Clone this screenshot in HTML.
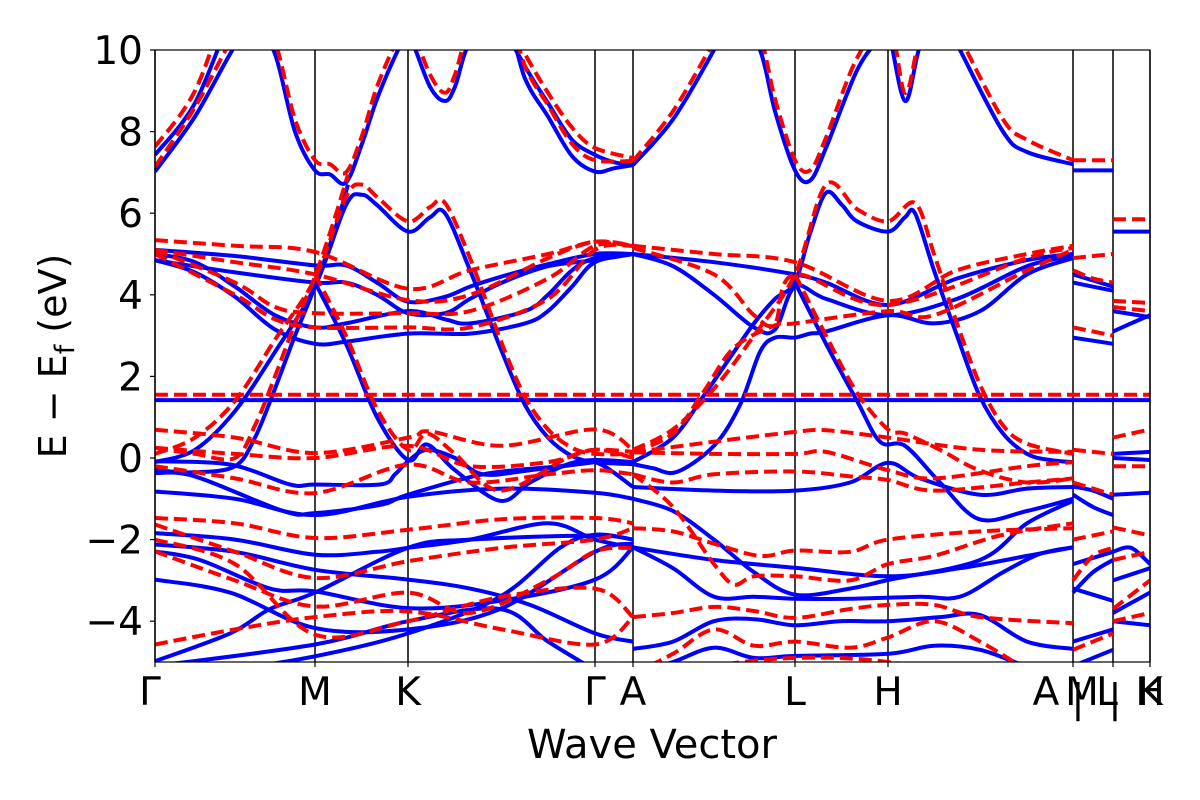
<!DOCTYPE html>
<html><head><meta charset="utf-8"><style>
html,body{margin:0;padding:0;background:#fff;}
svg{display:block;font-family:"DejaVu Sans","Liberation Sans",sans-serif;}
</style></head><body>
<svg id="chart" width="1200" height="800" viewBox="0 0 1200 800" xmlns="http://www.w3.org/2000/svg">
<defs><clipPath id="plotclip"><rect x="155" y="50" width="995" height="612"/></clipPath></defs>
<rect x="155" y="50" width="995" height="612" fill="#fff"/>
<g id="symlines"></g>
<g id="blue" clip-path="url(#plotclip)"></g>
<g id="red" clip-path="url(#plotclip)"></g>
<rect x="155" y="50" width="995" height="612" fill="none" stroke="#000" stroke-width="1.2"/>
<g id="yticks"></g>
<g id="xticks"></g>
<text transform="translate(66,356) rotate(-90)" text-anchor="middle" font-size="38">E − E<tspan font-size="27" dy="8">f</tspan><tspan dy="-8"> (eV)</tspan></text>
<text x="652" y="758" text-anchor="middle" font-size="40">Wave Vector</text>
</svg>
<script>
const yTicks = [10, 8, 6, 4, 2, 0, -2, -4];
const symK = [0, 0.8, 1.265, 2.2, 2.39, 3.2, 3.665, 4.59, 4.79, 4.975];
const symLabels = ["Γ","M","K","Γ","A","L","H","A","L","K"];
const extraLabels = ["M", "|", "|", "H"];
const flatBlue = [0,1.42, 4.975,1.42];
const flatRed = [0,1.55, 4.975,1.55];
const blueBands = [
 [0,7.43, .2,8.7, .4,11, .6,12.5],
 [1.575,12, 1.85,9.6, 1.965,8.7, 2.085,7.8, 2.2,7.43, 2.295,7.25, 2.39,7.18],
 [0,7.02, .2,8.37, .4,10.1, .5,10.6, .6,9.9, .7,8.0, .8,7.05, .875,6.95, .955,6.75, 1.035,7.7, 1.11,8.8, 1.215,10, 1.265,10.4, 1.375,9.1, 1.45,8.75, 1.5,9.1, 1.575,10.2, 1.735,11, 1.85,9.3, 1.965,8.37, 2.085,7.4, 2.2,7.02, 2.295,7.1, 2.39,7.18],
 [2.39,7.18, 2.59,8.3, 2.795,10, 2.9,11, 3.025,10, 3.1,8.5, 3.2,7.05, 3.275,6.8, 3.355,7.6, 3.51,9.5, 3.625,10.3, 3.665,10.5, 3.75,8.75, 3.825,10.1, 3.925,11, 4.025,10, 4.24,8.0, 4.36,7.5, 4.59,7.2],
 [0,5.10, .4,4.95, .8,4.72, .955,4.72, 1.11,4.3, 1.265,3.83, 1.45,3.95, 1.575,4.2, 1.735,4.45, 1.965,4.75, 2.2,5.0, 2.39,5.0],
 [0,4.85, .4,4.55, .8,4.30, .955,4.3, 1.11,4.0, 1.265,3.55, 1.45,3.55, 1.575,3.9, 1.735,4.3, 1.965,4.7, 2.2,4.85, 2.39,5.0],
 [0,4.85, .2,4.55, .4,3.95, .6,3.15, .8,2.8, .955,2.85, 1.265,3.05, 1.575,3.05, 1.85,3.3, 1.965,3.6, 2.085,4.2, 2.2,4.8, 2.39,5.0],
 [0,5.0, .2,4.8, .4,4.2, .6,3.5, .8,3.2, .955,3.3, 1.265,3.6, 1.45,3.4, 1.575,3.3, 1.85,3.6, 1.965,4.0, 2.085,4.6, 2.2,4.9, 2.39,5.0],
 [2.39,5.0, 2.795,4.8, 3.2,4.5, 3.355,4.3, 3.665,3.75, 4.01,4.4, 4.36,4.85, 4.59,5.0],
 [2.39,5.0, 2.59,4.7, 2.795,4.0, 2.995,3.2, 3.1,3.15, 3.2,4.2, 3.355,3.9, 3.665,3.5, 4.01,3.9, 4.36,4.7, 4.59,4.95],
 [2.39,-0.15, 2.49,-0.25, 2.61,-0.34, 2.795,0.3, 2.925,1.3, 3.025,2.6, 3.1,2.95, 3.2,2.95, 3.275,3.05, 3.355,3.1, 3.665,3.5, 3.895,3.3, 4.125,3.6, 4.36,4.5, 4.59,4.9],
 [0,-0.1, .2,0.2, .4,1.15, .6,2.6, .8,4.2, .955,6.2, 1.035,6.45, 1.11,6.2, 1.265,5.55, 1.375,5.9, 1.45,6.0, 1.575,4.6, 1.735,2.6, 1.85,1.3, 1.965,0.5, 2.085,0.05, 2.2,-0.1, 2.39,-0.15],
 [0,-0.3, .2,-0.35, .4,-0.2, .5,0.5, .6,1.7, .7,3.0, .8,4.2, .9,5.6, .965,6.7],
 [.8,4.3, .955,2.8, 1.11,1.0, 1.265,-0.05, 1.36,0.33, 1.5,-0.3, 1.725,-1.05, 1.875,-0.6, 2.06,-0.16, 2.2,-0.05, 2.39,-0.1],
 [0,-0.08, .375,-0.16, .675,-0.65, .8,-0.65, 1.125,-0.65, 1.2,-0.4, 1.265,-0.08, 1.36,0.2, 1.5,0.0, 1.64,-0.4, 1.875,-0.3, 2.2,-0.1],
 [0,-0.37, .2,-0.45, .64,-1.3, .8,-1.35, 1.125,-1.15, 1.265,-0.9, 1.64,-0.4, 2.025,-0.2, 2.2,-0.1, 2.39,-0.71],
 [0,-0.82, .4,-1.0, .8,-1.4, 1.265,-0.95, 1.735,-0.75, 2.2,-0.85, 2.39,-1.0],
 [0,-1.84, .4,-2.0, .8,-2.37, 1.11,-2.3, 1.265,-2.2, 1.575,-2.0, 1.965,-1.6, 2.2,-2.0, 2.39,-2.19],
 [0,-2.12, .4,-2.3, .8,-2.74, 1.265,-2.98, 1.575,-3.2, 1.875,-3.6, 2.2,-4.3, 2.39,-4.5],
 [0,-2.29, .225,-2.5, .575,-3.2, .8,-3.27, 1.265,-3.68, 1.725,-3.5, 2.2,-2.98, 2.39,-2.19],
 [0,-2.98, .375,-3.3, .8,-4.17, 1.265,-4.2, 1.725,-3.7, 2.2,-2.3, 2.39,-2.1],
 [0,-4.98, .375,-4.3, .575,-3.7, .8,-3.3, 1.265,-2.2, 1.575,-2.0, 2.2,-1.9, 2.39,-2.0],
 [0,-5.1, .8,-4.57, 1.265,-4.0, 1.725,-3.7, 1.965,-4.5, 2.2,-5.2],
 [.375,-5.2, .8,-4.86, 1.265,-4.3, 1.725,-3.4, 2.025,-2.2, 2.2,-1.88, 2.39,-2.0],
 [2.39,-0.1, 2.59,0.5, 2.74,1.5, 2.895,2.6, 2.995,3.3, 3.1,3.9, 3.2,4.3, 3.275,5.5, 3.355,6.5, 3.435,6.2, 3.51,5.8, 3.665,5.55, 3.75,5.9, 3.8,6.0, 3.895,4.6, 4.01,3.0, 4.125,1.5, 4.24,0.6, 4.36,0.1, 4.475,-0.05, 4.59,-0.1],
 [3.2,4.3, 3.355,2.8, 3.51,1.4, 3.625,0.4, 3.75,0.3, 3.925,-0.6, 4.12,-1.5, 4.36,-1.3, 4.59,-1.0],
 [2.39,-0.71, 2.795,-0.8, 3.2,-0.8, 3.475,-0.6, 3.665,-0.12, 3.825,-0.5, 4.125,-0.9, 4.36,-0.75, 4.59,-0.71],
 [2.39,-1.0, 2.59,-1.3, 2.795,-2.0, 2.995,-2.8, 3.2,-3.35, 3.475,-3.2, 3.665,-2.99, 4.125,-2.5, 4.36,-1.6, 4.59,-1.05],
 [2.39,-2.19, 2.59,-2.7, 2.795,-3.4, 2.995,-3.4, 3.2,-3.45, 3.475,-3.45, 3.825,-3.4, 4.025,-3.4, 4.24,-2.8, 4.425,-2.35, 4.59,-2.19],
 [2.39,-2.19, 2.795,-2.5, 3.2,-2.69, 3.665,-2.9, 4.025,-2.7, 4.36,-2.4, 4.59,-2.19],
 [2.39,-4.68, 2.59,-4.5, 2.795,-4.0, 2.995,-3.95, 3.2,-4.1, 3.425,-4.0, 3.665,-4.0, 3.925,-3.9, 4.125,-3.85, 4.36,-4.5, 4.59,-4.68],
 [2.39,-5.3, 2.59,-5.0, 2.795,-4.65, 2.995,-4.9, 3.2,-4.85, 3.665,-4.8, 3.895,-4.6, 4.125,-4.7, 4.36,-5.1, 4.59,-5.3],
 [4.59,7.05, 4.79,7.05], [4.59,4.5, 4.69,4.35, 4.79,4.2], [4.59,4.3, 4.79,4.1], [4.59,2.95, 4.79,2.8],
 [4.59,-0.7, 4.69,-0.8, 4.79,-1.0], [4.59,-0.9, 4.69,-1.2, 4.79,-1.4], [4.59,-2.6, 4.79,-2.3],
 [4.59,-3.3, 4.69,-2.8, 4.79,-2.5], [4.59,-3.2, 4.79,-3.5], [4.59,-4.5, 4.79,-4.2], [4.59,-5.1, 4.79,-4.7],
 [4.79,5.55, 4.975,5.55], [4.79,3.6, 4.975,3.45], [4.79,3.1, 4.88,3.3, 4.975,3.5], [4.79,0.1, 4.975,0.15],
 [4.79,0.0, 4.975,-0.05], [4.79,-0.9, 4.975,-0.85], [4.79,-2.3, 4.88,-2.2, 4.975,-2.6], [4.79,-3.0, 4.975,-2.7],
 [4.79,-3.8, 4.975,-3.3], [4.79,-4.0, 4.975,-4.1]
];
const redBands = [
 [0,7.63, .2,9.0, .4,11.5, .6,12.5],
 [1.575,12.3, 1.85,9.9, 1.965,8.95, 2.085,8.1, 2.2,7.6, 2.39,7.35],
 [0,7.14, .2,8.6, .4,10.4, .5,10.9, .6,10.2, .7,8.3, .8,7.3, .875,7.2, .955,7.0, 1.035,7.9, 1.11,9.1, 1.215,10.3, 1.265,10.7, 1.375,9.4, 1.45,8.95, 1.5,9.4, 1.575,10.5, 1.735,11.3, 1.85,9.6, 1.965,8.65, 2.085,7.7, 2.2,7.3, 2.39,7.28],
 [2.39,7.28, 2.59,8.5, 2.795,10.2, 2.9,11, 3.025,10.3, 3.1,8.8, 3.2,7.3, 3.275,7.05, 3.355,7.85, 3.51,9.8, 3.665,10.7, 3.75,8.95, 3.825,10.3, 3.925,11.2, 4.025,10.3, 4.24,8.3, 4.36,7.8, 4.59,7.3],
 [0,0.1, .2,0.5, .4,1.4, .6,2.9, .8,4.4, .955,6.4, 1.035,6.7, 1.11,6.4, 1.265,5.8, 1.375,6.15, 1.45,6.25, 1.575,4.9, 1.735,2.8, 1.85,1.5, 1.965,0.7, 2.085,0.25, 2.2,0.1, 2.39,0.1],
 [0,0.25, .2,0.1, .4,0.0, .5,0.8, .6,2.0, .7,3.3, .8,4.45, .9,5.9, .965,6.95],
 [.8,4.5, .955,3.0, 1.11,1.2, 1.265,0.2, 1.36,0.6, 1.5,0.1, 1.725,-0.8, 2.06,0.0, 2.2,0.2, 2.39,0.15],
 [0,5.34, .4,5.2, .8,5.05, 1.265,4.15, 1.575,4.6, 1.965,5.0, 2.2,5.3, 2.39,5.2],
 [0,5.1, .4,4.8, .8,4.5, 1.265,3.87, 1.575,4.0, 1.965,4.9, 2.2,5.3, 2.39,5.2],
 [0,5.0, .4,4.0, .6,3.4, .8,3.2, 1.265,3.2, 1.575,3.2, 1.965,3.9, 2.2,5.1, 2.39,5.2],
 [0,5.1, .4,4.3, .6,3.7, .8,3.55, 1.265,3.55, 1.575,3.6, 1.965,4.4, 2.2,5.2, 2.39,5.2],
 [2.39,5.2, 2.795,5.0, 3.2,4.8, 3.665,3.85, 4.01,4.6, 4.36,5.0, 4.59,5.2],
 [2.39,5.15, 2.795,4.5, 2.995,3.5, 3.1,3.3, 3.2,4.5, 3.665,3.75, 4.36,4.9, 4.59,5.15],
 [2.39,0.14, 2.59,0.6, 2.74,1.6, 2.895,2.7, 3.1,3.25, 3.2,3.3, 3.665,3.6, 3.895,3.5, 4.36,4.6, 4.59,5.1],
 [2.39,0.2, 2.59,0.7, 2.795,1.7, 2.995,3.0, 3.2,4.5, 3.355,6.7, 3.51,6.1, 3.665,5.8, 3.8,6.25, 3.895,5.0, 4.01,3.3, 4.125,1.8, 4.24,0.8, 4.36,0.35, 4.59,0.1],
 [3.2,4.5, 3.355,3.0, 3.51,1.6, 3.665,0.7, 3.75,0.6, 3.925,0.2, 4.12,-0.3, 4.36,-0.6, 4.59,-0.5],
 [0,0.69, .4,0.5, .8,0.12, 1.265,0.5, 1.375,0.65, 1.735,0.3, 2.2,0.7, 2.39,0.2],
 [0,0.25, .4,0.1, .8,0.0, 1.265,0.3, 1.575,-0.2, 1.965,-0.1, 2.2,0.2, 2.39,0.0],
 [0,-0.2, .4,-0.5, .8,-0.86, 1.265,-0.16, 1.575,-0.6, 1.965,-0.4, 2.2,-0.3, 2.39,-0.4],
 [0,-1.47, .4,-1.6, .8,-1.96, 1.265,-1.76, 1.735,-1.5, 2.2,-1.47, 2.39,-1.6],
 [0,-1.63, .4,-2.3, .8,-2.94, 1.265,-2.53, 1.735,-2.2, 2.2,-2.0, 2.39,-1.72],
 [0,-2.29, .4,-3.0, .8,-3.64, 1.265,-3.3, 1.575,-3.8, 1.965,-3.0, 2.2,-2.29, 2.39,-2.2],
 [0,-4.57, .4,-4.2, .8,-3.9, 1.265,-3.76, 1.735,-4.2, 2.2,-4.57, 2.39,-3.9],
 [0,-2.0, .4,-2.6, .8,-4.33, 1.265,-4.0, 1.735,-3.4, 2.2,-3.2, 2.39,-3.9],
 [2.39,0.14, 2.795,0.1, 3.2,0.1, 3.355,0.15, 3.665,-0.3, 3.895,-0.5, 4.36,-0.2, 4.59,-0.1],
 [2.39,0.14, 2.795,0.4, 3.2,0.64, 3.355,0.68, 3.665,0.5, 4.125,0.2, 4.59,0.15],
 [2.39,-0.4, 2.59,-0.6, 2.795,-0.4, 3.2,-0.33, 3.475,-0.45, 3.665,-0.54, 3.895,-0.8, 4.36,-0.6, 4.59,-0.5],
 [2.39,-1.72, 2.59,-1.8, 2.795,-2.1, 3.025,-2.4, 3.2,-2.27, 3.475,-2.3, 3.665,-2.0, 4.125,-1.8, 4.59,-1.72],
 [2.39,-0.4, 2.59,-1.2, 2.795,-2.6, 2.895,-3.1, 2.995,-2.9, 3.2,-2.9, 3.475,-3.0, 3.665,-2.6, 3.895,-2.4, 4.225,-1.9, 4.59,-1.6],
 [2.39,-3.9, 2.59,-3.8, 2.795,-3.65, 2.995,-3.75, 3.2,-3.92, 3.475,-3.7, 3.665,-3.6, 3.895,-3.6, 4.125,-3.9, 4.59,-4.05],
 [2.39,-5.3, 2.59,-4.8, 2.795,-4.2, 2.995,-4.6, 3.2,-4.5, 3.475,-4.65, 3.665,-4.4, 3.895,-4.0, 4.125,-4.5, 4.36,-5.2],
 [2.39,-5.5, 2.795,-5.1, 3.2,-4.9, 3.665,-5.0, 4.36,-5.6],
 [4.59,7.3, 4.79,7.3], [4.59,4.9, 4.79,5.0], [4.59,4.6, 4.69,4.4, 4.79,4.3], [4.59,3.2, 4.79,3.0],
 [4.59,0.2, 4.79,0.1], [4.59,-0.6, 4.79,-0.9], [4.59,-2.0, 4.79,-1.8], [4.59,-3.0, 4.69,-2.4, 4.79,-2.2], [4.59,-4.7, 4.79,-4.3],
 [4.79,5.85, 4.975,5.85], [4.79,3.85, 4.975,3.8], [4.79,3.7, 4.975,3.6], [4.79,0.5, 4.975,0.7],
 [4.79,-0.2, 4.975,-0.2], [4.79,-1.7, 4.975,-1.9], [4.79,-2.5, 4.975,-2.3], [4.79,-3.7, 4.975,-3.0], [4.79,-4.0, 4.975,-3.8]
];

const NS = "http://www.w3.org/2000/svg";
const kMin = 0, kMax = 4.975, eMin = -5, eMax = 10;
const PX0 = 155, PX1 = 1150, PY0 = 50, PY1 = 662;
function xs(k){ return PX0 + (k - kMin) / (kMax - kMin) * (PX1 - PX0); }
function ys(e){ return PY1 - (e - eMin) / (eMax - eMin) * (PY1 - PY0); }

function bandPath(arr){
  const p = [];
  for (let i = 0; i < arr.length; i += 2) p.push([xs(arr[i]), ys(arr[i+1])]);
  let d = "M" + p[0][0].toFixed(1) + "," + p[0][1].toFixed(1);
  for (let i = 0; i < p.length - 1; i++){
    const p0 = p[Math.max(0, i-1)], p1 = p[i], p2 = p[i+1], p3 = p[Math.min(p.length-1, i+2)];
    const c1x = p1[0] + (p2[0]-p0[0])/6, c1y = p1[1] + (p2[1]-p0[1])/6;
    const c2x = p2[0] - (p3[0]-p1[0])/6, c2y = p2[1] - (p3[1]-p1[1])/6;
    d += " C" + c1x.toFixed(1) + "," + c1y.toFixed(1) + " " + c2x.toFixed(1) + "," + c2y.toFixed(1) + " " + p2[0].toFixed(1) + "," + p2[1].toFixed(1);
  }
  return d;
}
function drawBand(g, arr, color, dashed, name){
  const el = document.createElementNS(NS, "path");
  el.setAttribute("d", bandPath(arr));
  el.setAttribute("fill", "none");
  el.setAttribute("stroke", color);
  el.setAttribute("stroke-width", "4");
  if (dashed) el.setAttribute("stroke-dasharray", "13,6");
  
  
  g.appendChild(el);
}
const gB = document.getElementById("blue"), gR = document.getElementById("red");
blueBands.forEach(function(b){ drawBand(gB, b, "#0000ff", false, "blue-band"); });
drawBand(gB, flatBlue, "#0000ff", false, "blue-flat-band");
redBands.forEach(function(b){ drawBand(gR, b, "#ff0000", true, "red-band"); });
drawBand(gR, flatRed, "#ff0000", true, "red-flat-band");

const gS = document.getElementById("symlines");
symK.forEach(function(k){
  const ln = document.createElementNS(NS, "line");
  ln.setAttribute("x1", xs(k)); ln.setAttribute("x2", xs(k));
  ln.setAttribute("y1", PY0); ln.setAttribute("y2", PY1);
  ln.setAttribute("stroke", "#000"); ln.setAttribute("stroke-width", "1.5");
  
  
  gS.appendChild(ln);
});

const gY = document.getElementById("yticks");
yTicks.forEach(function(v){
  const t = document.createElementNS(NS, "line");
  t.setAttribute("x1", PX0 - 5); t.setAttribute("x2", PX0);
  t.setAttribute("y1", ys(v)); t.setAttribute("y2", ys(v));
  t.setAttribute("stroke", "#000"); t.setAttribute("stroke-width", "1.2");
  
  
  gY.appendChild(t);
  const tx = document.createElementNS(NS, "text");
  tx.setAttribute("x", PX0 - 12); tx.setAttribute("y", ys(v) + 14);
  tx.setAttribute("text-anchor", "end"); tx.setAttribute("font-size", "39");
  tx.textContent = v < 0 ? "−" + Math.abs(v) : String(v);
  
  
  gY.appendChild(tx);
});

const gX = document.getElementById("xticks");
const labelShift = [-5, 0, 0, 0, 0, 0, 0, -27, -6, 0];
symK.forEach(function(k, i){
  const t = document.createElementNS(NS, "line");
  t.setAttribute("x1", xs(k)); t.setAttribute("x2", xs(k));
  t.setAttribute("y1", PY1); t.setAttribute("y2", PY1 + 5);
  t.setAttribute("stroke", "#000"); t.setAttribute("stroke-width", "1.2");
  
  
  gX.appendChild(t);
  const tx = document.createElementNS(NS, "text");
  tx.setAttribute("x", xs(k) + labelShift[i]); tx.setAttribute("y", 705);
  tx.setAttribute("text-anchor", "middle"); tx.setAttribute("font-size", "39");
  tx.textContent = symLabels[i];
  
  
  gX.appendChild(tx);
});
const extraK = [4.59, 4.59, 4.79, 4.975];
const extraShift = [9, 5, 2, 0];
extraLabels.forEach(function(s, i){
  const tx = document.createElementNS(NS, "text");
  tx.setAttribute("x", xs(extraK[i]) + extraShift[i]);
  tx.setAttribute("y", s === "|" ? 712 : 705);
  tx.setAttribute("text-anchor", "middle"); tx.setAttribute("font-size", "39");
  tx.textContent = s;
  
  
  gX.appendChild(tx);
});
</script>
</body></html>
